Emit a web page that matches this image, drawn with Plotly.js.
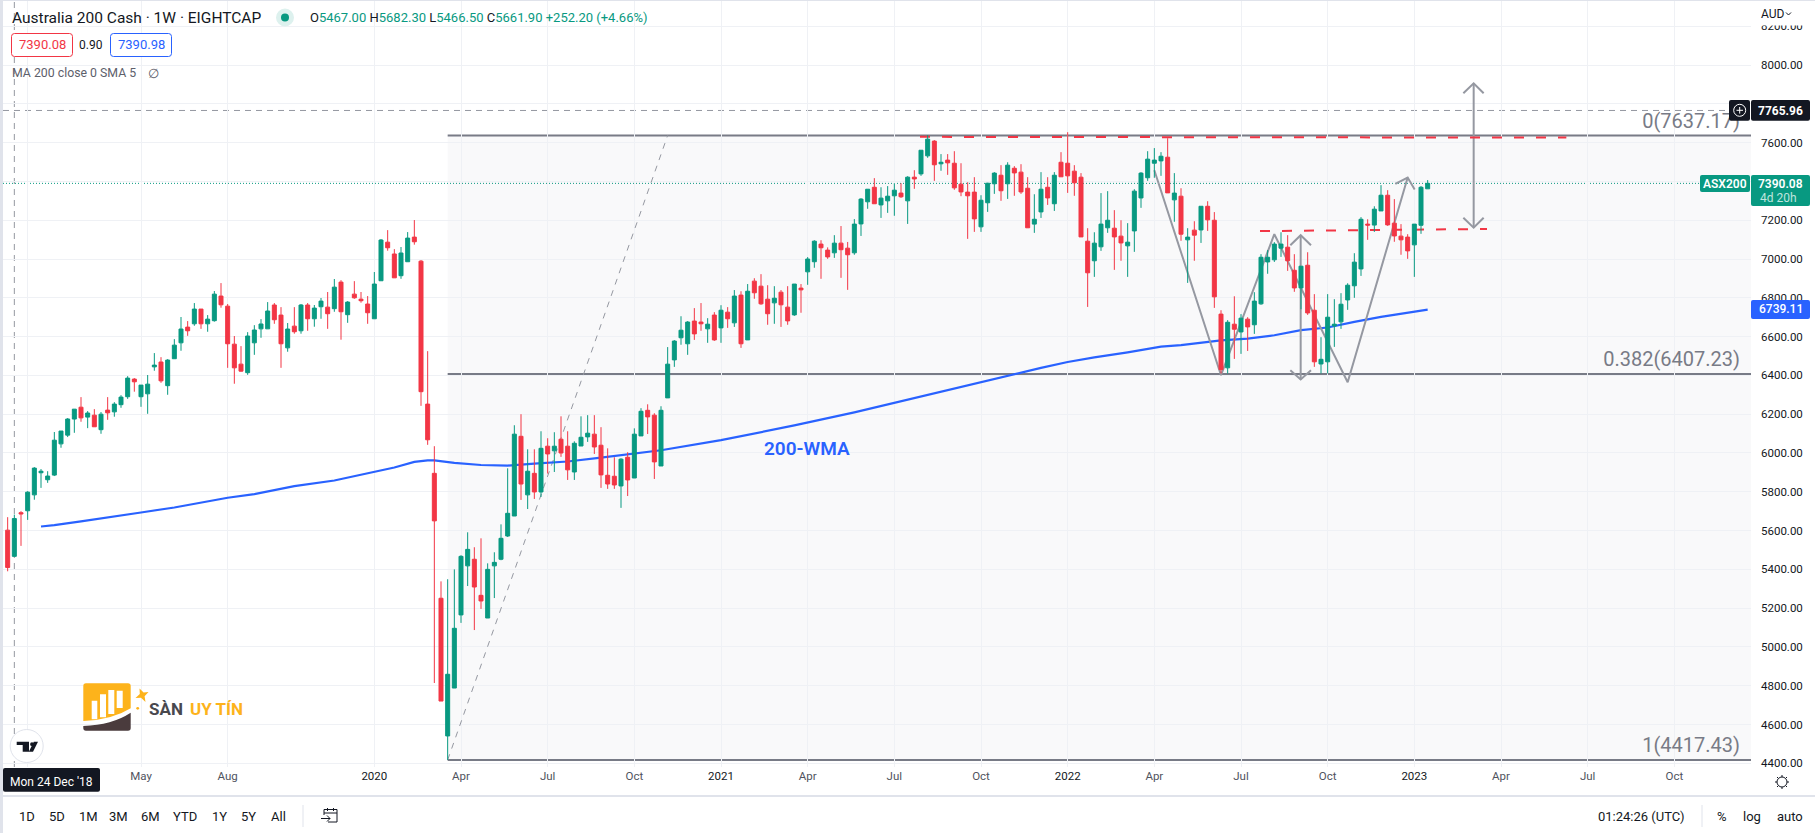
<!DOCTYPE html>
<html>
<head>
<meta charset="utf-8">
<script src="https://cdn.plot.ly/plotly-3.0.1.min.js"></script>
<style>
  html, body { margin: 0; padding: 0; background: #fff; overflow: hidden; }
  #plot { width: 1815px; height: 833px; }
</style>
</head>
<body>
<div id="plot"></div>
<script>
// weekly candles, first one is the week of 17 Dec 2018
var open = [5602,5467,5692,5702,5784,5898,5862,5886,6047,6092,
  6175,6236,6185,6195,6120,6221,6212,6249,6290,6381,
  6290,6305,6444,6469,6347,6486,6568,6649,6666,6742,
  6666,6682,6809,6757,6561,6458,6414,6568,6640,6640,
  6763,6711,6542,6654,6630,6763,6692,6754,6752,6744,
  6881,6713,6819,6793,6768,6692,6888,7087,7026,6914,
  6986,7113,6989,6252,5895,5251,4541,4788,5165,5418,
  5452,5266,5149,5418,5452,5572,5675,6086,5784,5895,
  5799,6035,6011,6071,6035,5902,6036,6083,6097,6040,
  5885,5880,5830,5978,5871,6088,6220,6195,5933,6284,
  6480,6594,6563,6680,6675,6640,6711,6645,6726,6671,
  6814,6583,6886,6860,6793,6774,6829,6752,6712,6850,
  6934,6986,7077,7046,7032,7082,7056,7032,7181,7295,
  7370,7279,7300,7326,7340,7300,7422,7439,7532,7608,
  7491,7510,7494,7386,7345,7345,7166,7290,7388,7432,
  7388,7468,7448,7365,7180,7243,7370,7285,7499,7494,
  7453,7422,7092,6991,7063,7161,7159,7118,7068,7145,
  7315,7419,7494,7506,7525,7305,7324,7099,7149,7150,
  7272,7200,6716,6439,6664,6624,6690,6661,6769,6985,
  6996,7056,7061,6942,6851,6968,6736,6459,6470,6655,
  6676,6789,6862,6949,7180,7175,7248,7329,7185,7118,
  7113,7073,7174,7362];
var high = [5669,5682.3,5700,5803,5927,5917,5906,6108,6113,6180,
  6226,6288,6216,6226,6211,6288,6262,6298,6396,6386,
  6350,6402,6515,6494,6484,6587,6701,6680,6773,6742,
  6711,6835,6876,6768,6603,6551,6623,6659,6690,6778,
  6773,6752,6670,6752,6768,6773,6763,6799,6830,6897,
  6891,6783,6886,6830,6809,6933,7103,7149,7051,7062,
  7139,7201,6995,6525,6035,5338,5349,5400,5473,5591,
  5514,5560,5431,5488,5632,5921,6143,6200,6019,6019,
  6112,6076,6107,6189,6112,6060,6189,6195,6195,6133,
  6024,5978,5973,6004,6127,6231,6251,6205,6241,6546,
  6582,6705,6680,6747,6773,6695,6726,6762,6752,6840,
  6834,6871,6901,6922,6865,6860,6840,6860,6871,6871,
  7010,7097,7097,7060,7123,7170,7088,7206,7314,7360,
  7417,7370,7376,7391,7391,7427,7458,7561,7639,7613,
  7541,7541,7556,7494,7396,7422,7329,7391,7448,7484,
  7499,7479,7489,7422,7334,7448,7422,7448,7551,7654,
  7484,7443,7159,7138,7340,7350,7252,7200,7185,7360,
  7448,7556,7572,7551,7623,7443,7365,7159,7195,7272,
  7298,7242,6736,6685,6808,6716,6700,6829,7025,7046,
  7087,7138,7123,7025,6963,7035,6819,6597,6819,6793,
  6824,6875,7030,7216,7205,7272,7381,7355,7309,7180,
  7128,7180,7376,7407];
var low = [5390,5466.5,5521,5655,5759,5820,5846,5881,6027,6082,
  6104,6161,6128,6135,6099,6171,6187,6233,6279,6316,
  6238,6202,6424,6362,6300,6486,6527,6604,6656,6640,
  6625,6677,6749,6439,6357,6419,6403,6506,6594,6640,
  6666,6439,6522,6615,6615,6630,6651,6692,6640,6728,
  6584,6671,6795,6775,6666,6692,6888,7043,6903,6898,
  6986,7074,6243,6042,4814,4721,4417.43,4788,5124,5314,
  5087,5196,5149,5252,5447,5567,5675,5758,5711,5763,
  5773,5894,5902,5980,5861,5861,6036,6057,5995,5820,
  5815,5815,5717,5778,5871,6088,6098,5866,5933,6284,
  6444,6558,6506,6583,6630,6568,6578,6568,6645,6650,
  6542,6583,6795,6764,6661,6666,6650,6661,6707,6723,
  6867,6955,6898,7001,7006,6903,6841,7022,7119,7259,
  7285,7212,7238,7223,7315,7181,7362,7429,7522,7403,
  7455,7434,7357,7324,7104,7140,7140,7243,7336,7300,
  7310,7326,7336,7161,7135,7212,7279,7248,7424,7341,
  7326,7114,6753,6908,7042,7135,6944,6991,6908,7037,
  7264,7403,7419,7429,7341,7192,7094,6877,6991,7083,
  7145,6748,6410,6410,6485,6511,6526,6614,6764,6924,
  6985,7011,6939,6831,6741,6712,6444,6410,6410,6547,
  6640,6738,6800,6913,7099,7140,7248,7171,7089,7022,
  7001,6908,7130,7362];
var close = [5409.7,5661.9,5686,5798,5922,5906,5881,6066,6113,6175,
  6226,6181,6206,6135,6200,6207,6252,6288,6386,6367,
  6350,6355,6453,6372,6479,6556,6639,6630,6742,6666,
  6690,6819,6764,6563,6439,6422,6603,6634,6665,6732,
  6687,6563,6639,6625,6763,6692,6747,6783,6718,6855,
  6728,6778,6800,6785,6723,6871,7098,7058,6903,7031,
  7108,7089,6316,6068,5650,4721,4859,5096,5467,5503,
  5309,5237,5400,5436,5560,5689,6097,5840,5906,5799,
  6024,5995,6035,6000,5913,6050,6081,6102,6031,5887,
  5840,5835,5968,5861,6097,6215,6186,5954,6220,6458,
  6577,6633,6675,6614,6666,6664,6583,6736,6692,6809,
  6563,6834,6826,6769,6718,6798,6764,6681,6871,6841,
  7000,7092,7058,7011,7082,7048,7022,7180,7309,7360,
  7285,7314,7324,7355,7321,7422,7413,7561,7618,7486,
  7499,7496,7367,7346,7326,7207,7303,7391,7443,7352,
  7484,7444,7346,7161,7205,7360,7315,7432,7424,7429,
  7393,7114,6929,7082,7180,7200,7114,7083,7087,7350,
  7443,7515,7510,7530,7341,7340,7128,7113,7123,7272,
  7202,6805,6430,6674,6638,6695,6650,6783,7009,7009,
  7077,7077,6991,6851,6963,6722,6470,6483,6700,6664,
  6767,6865,6984,7205,7175,7257,7329,7176,7119,7099,
  7042,7180,7370,7390.08];

// 200 week MA, read at these week numbers (week 0 = 24 Dec 2018)
var maWeeks = [4,6,10,14,19,24,32,36,42,48,54,57,60,62,63,66,70,74,78,83,88,93,97,106,117,126,132,139,145,150,154,158,162,167,172,175,181,185,189,193,197,201,205,212];
var maValues = [5621,5628,5647,5666,5693,5719,5769,5788,5829,5858,5903,5925,5954,5962,5962,5949,5938,5935,5945,5956,5976,5995,6014,6066,6142,6209,6259,6314,6366,6407,6439,6469,6493,6519,6548,6556,6581,6590,6607,6633,6647,6676,6702,6739.11];

// hand drawn lines on the chart
var zigzagWeeks = [171,181,189,200,209];
var zigzagPrices = [7458,6401,7128,6365,7420];
var zigzagHeadWeeks = [207.15,209,210.05];
var zigzagHeadPrices = [7388,7420,7358];
var arrow1Weeks = [192.95,192.95,null,191.4,192.95,194.5,null,191.4,192.95,194.5];
var arrow1Prices = [7123,6379,null,7071,7123,7071,null,6427,6379,6427];
var arrow2Weeks = [218.9,218.9,null,217.35,218.9,220.4,null,217.35,218.9,220.4];
var arrow2Prices = [7906,7162,null,7855,7906,7855,null,7213,7162,7213];
var resistWeeks = [135.85,232.8];
var resistPrices = [7630,7626];
var neckWeeks = [186.85,220.9];
var neckPrices = [7144,7155];
var fibTrendWeeks = [65,98];
var fibTrendPrices = [4417.43,7637.17];
var fibLevels = [7637.17,6407.23,4417.43];
var fibLabels = ['0(7637.17)','0.382(6407.23)','1(4417.43)'];
var fibLabelPrices = [7651,6421,4431];

var priceTicks = [4400,4600,4800,5000,5200,5400,5600,5800,6000,6200,6400,6600,6800,7000,7200,7400,7600,7800,8000,8200];
// these two sit under the price tags and can't be read in the chart
var coveredTicks = [7400,7800];
var timeTickWeeks = [2,19,32,54,67,80,93,106,119,132,145,158,171,184,197,210,223,236,249];
var timeTickLabels = ['','May','Aug','2020','Apr','Jul','Oct','2021','Apr','Jul','Oct','2022','Apr','Jul','Oct','2023','Apr','Jul','Oct'];
var rangeButtons = ['1D','5D','1M','3M','6M','YTD','1Y','5Y','All'];
var rangeButtonX = [27,57,88,119,150,185,219,248,278];

var UP = '#089981', DOWN = '#F23645', BLUE = '#2962FF', INK = '#131722', GREY = '#787B86', DRAW = '#9598A1';
var FONT = 'Roboto, "Open Sans", sans-serif';

var W = 1815, H = 833, ml = 3, mr = 64, mt = 1, mb = 66;

// week number -> date string
function weekDate(w) {
  var ms = Date.UTC(2018, 11, 24) + w * 7 * 86400000;
  return new Date(ms).toISOString().slice(0, 19).replace('T', ' ');
}
function px(x) { return (x - ml) / (W - ml - mr); }
function py(y) { return 1 - (y - mt) / (H - mt - mb); }
function pt(x, y) { return px(x) + ',' + py(y); }

function weeksToDates(list) {
  return list.map(function (w) { return w === null ? null : weekDate(w); });
}

var candleDates = open.map(function (v, i) { return weekDate(i - 1); });

function lineTrace(weeks, prices, color, width, dash) {
  return {
    type: 'scatter', mode: 'lines', x: weeksToDates(weeks), y: prices,
    line: { color: color, width: width, dash: dash || 'solid' },
    hoverinfo: 'skip', showlegend: false, zorder: 0, connectgaps: false
  };
}

var data = [
  lineTrace(fibTrendWeeks, fibTrendPrices, DRAW, 1, '6px,6px'),
  lineTrace(maWeeks, maValues, BLUE, 2.2),
  lineTrace(zigzagWeeks, zigzagPrices, DRAW, 2),
  lineTrace(zigzagHeadWeeks, zigzagHeadPrices, DRAW, 2),
  lineTrace(arrow1Weeks, arrow1Prices, DRAW, 2),
  lineTrace(arrow2Weeks, arrow2Prices, DRAW, 2),
  lineTrace(resistWeeks, resistPrices, DOWN, 2, '10px,12px'),
  lineTrace(neckWeeks, neckPrices, DOWN, 2, '10px,12px'),
  {
    type: 'scatter', mode: 'text', x: [258.85, 258.85, 258.85].map(weekDate), y: fibLabelPrices,
    text: fibLabels, textposition: 'top left',
    textfont: { family: FONT, size: 20, color: GREY },
    hoverinfo: 'skip', showlegend: false, zorder: 0, cliponaxis: false
  },
  {
    type: 'candlestick', x: candleDates, open: open, high: high, low: low, close: close,
    increasing: { line: { color: UP, width: 1 }, fillcolor: UP },
    decreasing: { line: { color: DOWN, width: 1 }, fillcolor: DOWN },
    whiskerwidth: 0, hoverinfo: 'skip', showlegend: false, zorder: 1
  }
];

// small helpers for the chart furniture, everything in page pixels
function box(x0, y0, x1, y1, r, fill, line, layer) {
  var p = 'M' + pt(x0 + r, y0) + ' L' + pt(x1 - r, y0) + ' Q' + pt(x1, y0) + ' ' + pt(x1, y0 + r) +
    ' L' + pt(x1, y1 - r) + ' Q' + pt(x1, y1) + ' ' + pt(x1 - r, y1) +
    ' L' + pt(x0 + r, y1) + ' Q' + pt(x0, y1) + ' ' + pt(x0, y1 - r) +
    ' L' + pt(x0, y0 + r) + ' Q' + pt(x0, y0) + ' ' + pt(x0 + r, y0) + ' Z';
  return {
    type: 'path', xref: 'paper', yref: 'paper', path: p, fillcolor: fill,
    line: line ? { color: line, width: 1 } : { width: 0 }, layer: layer || 'above'
  };
}
function poly(points, fill, stroke, closed) {
  var p = points.map(function (q, i) { return (i ? 'L' : 'M') + pt(q[0], q[1]); }).join(' ') + (closed === false ? '' : ' Z');
  return {
    type: 'path', xref: 'paper', yref: 'paper', path: p, fillcolor: fill || 'rgba(0,0,0,0)',
    line: stroke ? { color: stroke, width: 1 } : { width: 0 }, layer: 'above'
  };
}
function ring(cx, cy, r, fill, stroke, w) {
  return {
    type: 'circle', xref: 'paper', yref: 'paper', x0: px(cx - r), x1: px(cx + r), y0: py(cy + r), y1: py(cy - r),
    fillcolor: fill, line: stroke ? { color: stroke, width: w || 1 } : { width: 0 }, layer: 'above'
  };
}
function rule(x0, y0, x1, y1, color, w) {
  return {
    type: 'line', xref: 'paper', yref: 'paper', x0: px(x0), x1: px(x1), y0: py(y0), y1: py(y1),
    line: { color: color, width: w || 1 }, layer: 'above'
  };
}
function label(text, x, y, size, color, anchor, extra) {
  var a = {
    xref: 'paper', yref: 'paper', x: px(x), y: py(y), text: text, showarrow: false,
    xanchor: anchor || 'left', yanchor: 'middle', borderpad: 0, borderwidth: 0,
    font: { family: FONT, size: size, color: color }
  };
  if (extra) { a.font.weight = extra; }
  return a;
}

var shapes = [
  // shaded fib box and its levels
  { type: 'rect', xref: 'x', yref: 'y', x0: weekDate(65), x1: weekDate(260.5), y0: fibLevels[2], y1: fibLevels[0], fillcolor: 'rgba(120,123,134,0.045)', line: { width: 0 }, layer: 'below' },
  { type: 'line', xref: 'x', yref: 'y', x0: weekDate(65), x1: weekDate(260.5), y0: fibLevels[0], y1: fibLevels[0], line: { color: GREY, width: 2 }, layer: 'below' },
  { type: 'line', xref: 'x', yref: 'y', x0: weekDate(65), x1: weekDate(260.5), y0: fibLevels[1], y1: fibLevels[1], line: { color: GREY, width: 2 }, layer: 'below' },
  { type: 'line', xref: 'x', yref: 'y', x0: weekDate(65), x1: weekDate(260.5), y0: fibLevels[2], y1: fibLevels[2], line: { color: GREY, width: 2 }, layer: 'below' },
  // last price line and crosshair
  { type: 'line', xref: 'paper', yref: 'y', x0: 0, x1: 1, y0: 7390.08, y1: 7390.08, line: { color: UP, width: 1, dash: '1px,2px' }, layer: 'below' },
  { type: 'line', xref: 'paper', yref: 'y', x0: 0, x1: 1, y0: 7765.96, y1: 7765.96, line: { color: DRAW, width: 1, dash: '6px,5px' }, layer: 'below' },
  { type: 'line', xref: 'x', yref: 'paper', x0: weekDate(0), x1: weekDate(0), y0: 0, y1: 1, line: { color: DRAW, width: 1, dash: '6px,5px' }, layer: 'below' },

  // frame and separators
  { type: 'rect', xref: 'paper', yref: 'paper', x0: px(0), x1: px(3), y0: py(833), y1: py(0), fillcolor: '#E0E3EB', line: { width: 0 }, layer: 'above' },
  { type: 'rect', xref: 'paper', yref: 'paper', x0: px(3), x1: px(1815), y0: py(1), y1: py(0), fillcolor: '#E0E3EB', line: { width: 0 }, layer: 'above' },
  rule(3, 796, 1815, 796, '#E0E3EB', 2),
  rule(303, 805, 303, 827, '#E0E3EB'),
  rule(1702, 805, 1702, 827, '#E0E3EB'),

  // price scale cover and labels
  { type: 'rect', xref: 'paper', yref: 'paper', x0: px(1751), x1: px(1815), y0: py(25.5), y1: py(1), fillcolor: '#fff', line: { width: 0 }, layer: 'above' },
  poly([[1786, 12.5], [1788.5, 15], [1791, 12.5]], null, INK, false),
  box(1729, 100, 1750, 120.7, 2, INK),
  ring(1739.7, 110.3, 6, INK, '#fff'),
  rule(1736.5, 110.3, 1743, 110.3, '#fff'),
  rule(1739.7, 107, 1739.7, 113.6, '#fff'),
  box(1751, 100, 1810, 120.7, 2, INK),
  box(1700, 175, 1750, 192, 2, UP),
  box(1751, 175, 1810, 206, 2, UP),
  box(1751, 300, 1810, 319, 2, BLUE),

  // header bits
  ring(285, 17.5, 9, '#DDF1EE'),
  ring(285, 17.5, 4, UP),
  box(11.5, 33.5, 72.5, 56.5, 3, '#fff', DOWN),
  box(110.5, 33.5, 171.5, 56.5, 3, '#fff', BLUE),

  // crosshair date
  box(3, 768, 100, 791.7, 2, INK),

  // tradingview mark
  ring(26.7, 746, 16.5, '#fff', '#E0E3EB'),
  poly([[16.7, 741.7], [29, 741.7], [29, 751.7], [22.7, 751.7], [22.7, 745], [16.7, 745]], INK),
  ring(32, 744.2, 1.9, INK),
  poly([[38, 741.7], [33, 751.7], [28.8, 751.7], [33.8, 741.7]], INK),

  // logo
  { type: 'path', xref: 'paper', yref: 'paper', layer: 'above', fillcolor: '#FDB31B', line: { width: 0 },
    path: 'M' + pt(83.3, 686) + ' Q' + pt(83.3, 683.3) + ' ' + pt(86, 683.3) + ' L' + pt(128, 683.3) + ' Q' + pt(130.7, 683.3) + ' ' + pt(130.7, 686) +
      ' L' + pt(130.7, 708.3) + ' Q' + pt(112, 720) + ' ' + pt(83.3, 721) + ' Z' },
  { type: 'path', xref: 'paper', yref: 'paper', layer: 'above', fillcolor: '#4A3B3D', line: { width: 0 },
    path: 'M' + pt(83.3, 726) + ' Q' + pt(112, 725) + ' ' + pt(130.7, 712.7) + ' L' + pt(130.7, 728) + ' Q' + pt(130.7, 730.7) + ' ' + pt(128, 730.7) +
      ' L' + pt(86, 730.7) + ' Q' + pt(83.3, 730.7) + ' ' + pt(83.3, 728) + ' Z' },
  box(91.7, 700.7, 97.3, 719.3, 0, '#fff'),
  box(100, 694.3, 106, 717.3, 0, '#fff'),
  box(108.3, 690, 114.3, 714, 0, '#fff'),
  box(116.7, 690.7, 122.7, 708, 0, '#fff'),
  poly([[139.5, 688.5], [143.6, 692.6], [148.5, 692], [144.6, 696.2], [145.5, 702], [141, 697.8], [135.5, 698], [139.8, 694]], '#FDB31B'),
  ring(137.7, 708.3, 1.4, '#FDB31B'),

  // calendar icon
  poly([[324, 815], [324, 809.5], [337, 809.5], [337, 822], [328, 822]], null, INK, false),
  rule(324, 813, 337, 813, INK),
  rule(327.5, 808, 327.5, 811, INK),
  rule(333.5, 808, 333.5, 811, INK),
  rule(321, 818.5, 330, 818.5, INK),
  poly([[327, 815.5], [330, 818.5], [327, 821.5]], null, INK, false),

  // settings icon
  ring(1782, 782, 5, '#fff', INK),
  rule(1782, 775, 1782, 777, INK),
  rule(1782, 787, 1782, 789, INK),
  rule(1775, 782, 1777, 782, INK),
  rule(1787, 782, 1789, 782, INK),
  rule(1777, 777, 1778.4, 778.4, INK),
  rule(1785.6, 785.6, 1787, 787, INK),
  rule(1777, 787, 1778.4, 785.6, INK),
  rule(1785.6, 778.4, 1787, 777, INK)
];

var annotations = [
  label('Australia 200 Cash · 1W · EIGHTCAP', 12, 17.5, 15.5, INK),
  label('<span style="color:#131722">O</span>5467.00 <span style="color:#131722">H</span>5682.30 <span style="color:#131722">L</span>5466.50 <span style="color:#131722">C</span>5661.90 +252.20 (+4.66%)', 310, 18, 13, UP),
  label('7390.08', 42, 45, 13, DOWN, 'center'),
  label('0.90', 91, 45, 12, INK, 'center'),
  label('7390.98', 141, 45, 13, BLUE, 'center'),
  label('MA 200 close 0 SMA 5', 12, 73.5, 12.3, '#5d606b'),
  label('∅', 153, 73, 13, '#5d606b', 'center'),
  label('200-WMA', 807, 448, 19, BLUE, 'center', 600),
  label('AUD', 1761, 13.7, 12, INK),
  label('7765.96', 1781, 110.5, 12, '#fff', 'center', 700),
  label('ASX200', 1725, 183.5, 12, '#fff', 'center', 600),
  label('7390.08', 1781, 183.5, 12, '#fff', 'center', 600),
  label('4d 20h', 1778, 198, 12, '#BFE5DE', 'center'),
  label('6739.11', 1781, 309.5, 12, '#fff', 'center', 500),
  label("Mon 24 Dec '18", 51, 782, 12, '#fff', 'center'),
  label('UY TÍN', 190, 709, 17, '#FDB31B', 'left', 700),
  label('SÀN', 149, 709, 17, '#48484e', 'left', 700),
  label('01:24:26 (UTC)', 1685, 816, 13, INK, 'right'),
  label('%', 1722, 816, 13, INK, 'center'),
  label('log', 1752, 816, 13, INK, 'center'),
  label('auto', 1790, 816, 13, INK, 'center')
];
rangeButtons.forEach(function (t, i) {
  annotations.push(label(t, rangeButtonX[i], 816, 13, INK, 'center'));
});

var layout = {
  width: W, height: H,
  margin: { l: ml, r: mr, t: mt, b: mb, pad: 0 },
  paper_bgcolor: '#fff', plot_bgcolor: '#fff',
  showlegend: false, hovermode: false, dragmode: false,
  boxgap: 0.4, boxgroupgap: 0,
  xaxis: {
    type: 'date',
    range: [weekDate(-1.7), weekDate(260.5)],
    rangeslider: { visible: false },
    tickmode: 'array',
    tickvals: timeTickWeeks.map(weekDate),
    ticktext: timeTickLabels.map(function (t) {
      return /^\d+$/.test(t) ? '<span style="color:#131722">' + t + '</span>' : t;
    }),
    tickangle: 0, ticks: '', showline: false, zeroline: false,
    gridcolor: '#EFF1F5', gridwidth: 1,
    tickfont: { family: FONT, size: 11.5, color: '#50535E' }
  },
  yaxis: {
    side: 'right',
    range: [4380.9, 8330.4],
    tickmode: 'array',
    tickvals: priceTicks,
    ticktext: priceTicks.map(function (v) { return coveredTicks.indexOf(v) >= 0 ? '' : v.toFixed(2); }),
    ticks: '', showline: false, zeroline: false,
    gridcolor: '#EFF1F5', gridwidth: 1,
    ticklabelstandoff: 9,
    tickfont: { family: FONT, size: 11.5, color: INK }
  },
  shapes: shapes,
  annotations: annotations
};

Plotly.newPlot('plot', data, layout, { displayModeBar: false, staticPlot: true });
</script>
</body>
</html>
